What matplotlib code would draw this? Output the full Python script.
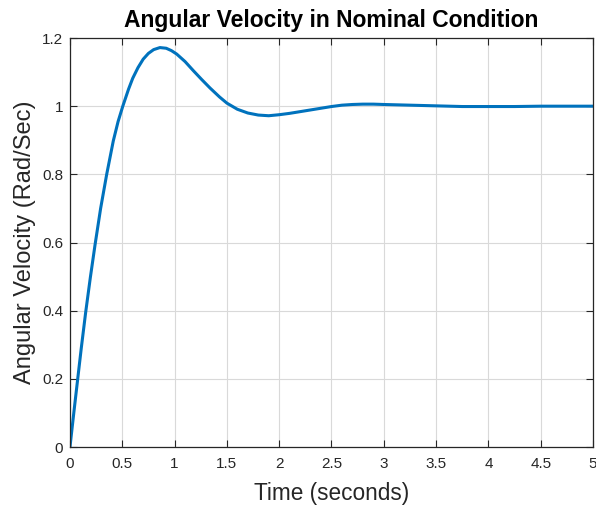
import matplotlib
matplotlib.use("Agg")
import matplotlib.pyplot as plt
from matplotlib.ticker import FormatStrFormatter

plt.rcParams['font.family'] = ['Liberation Sans', 'DejaVu Sans']

# values
time_s = [0, 0.02, 0.038, 0.074, 0.108, 0.15, 0.195, 0.24, 0.293, 0.351, 0.414,
          0.46, 0.505, 0.56, 0.60, 0.65, 0.70, 0.75, 0.80, 0.86, 0.92, 0.97,
          1.02, 1.10, 1.18, 1.26, 1.34, 1.43, 1.50, 1.60, 1.70, 1.80, 1.90,
          2.0, 2.1, 2.2, 2.3, 2.4, 2.5, 2.6, 2.7, 2.8, 2.9, 3.0, 3.25, 3.5,
          3.75, 4.0, 4.25, 4.5, 5.0]
omega = [0, 0.055, 0.104, 0.200, 0.290, 0.395, 0.498, 0.594, 0.700, 0.800, 0.898,
         0.955, 1.000, 1.050, 1.082, 1.113, 1.138, 1.155, 1.166, 1.172, 1.170, 1.163,
         1.153, 1.131, 1.104, 1.078, 1.053, 1.027, 1.009, 0.991, 0.980, 0.974, 0.972,
         0.975, 0.979, 0.984, 0.989, 0.994, 0.999, 1.003, 1.005, 1.006, 1.006, 1.005, 1.003, 1.001,
         0.999, 0.999, 0.999, 1.000, 1.000]
x_ticks = [0, 0.5, 1, 1.5, 2, 2.5, 3, 3.5, 4, 4.5, 5]
y_ticks = [0, 0.2, 0.4, 0.6, 0.8, 1.0, 1.2]

DARK = '#262626'

fig = plt.figure(figsize=(5.96, 5.07), dpi=100, facecolor='white')
ax = fig.add_axes([0.1174, 0.1183, 0.8776, 0.8067])

ax.plot(time_s, omega, color='#0072BD', lw=2.2, solid_joinstyle='round',
        solid_capstyle='round')

ax.set_xlim(0, 5)
ax.set_ylim(0, 1.2)
ax.set_xticks(x_ticks)
ax.set_yticks(y_ticks)
ax.xaxis.set_major_formatter(FormatStrFormatter('%g'))
ax.yaxis.set_major_formatter(FormatStrFormatter('%g'))
ax.tick_params(direction='in', length=5, width=0.8, colors=DARK, labelsize=11,
               top=True, right=True)
ax.tick_params(axis='x', pad=7)
ax.tick_params(axis='y', pad=5)
ax.grid(True, color='#d9d9d9', lw=0.8)
for s in ax.spines.values():
    s.set_color(DARK)
    s.set_linewidth(0.9)

ax.set_title('Angular Velocity in Nominal Condition', fontsize=16.5,
             fontweight='bold', color='black', pad=8)
ax.set_xlabel('Time (seconds)', fontsize=16.3, color=DARK, labelpad=8)
ax.set_ylabel('Angular Velocity (Rad/Sec)', fontsize=17, color=DARK, labelpad=4)

fig.savefig('out.png', dpi=100)
